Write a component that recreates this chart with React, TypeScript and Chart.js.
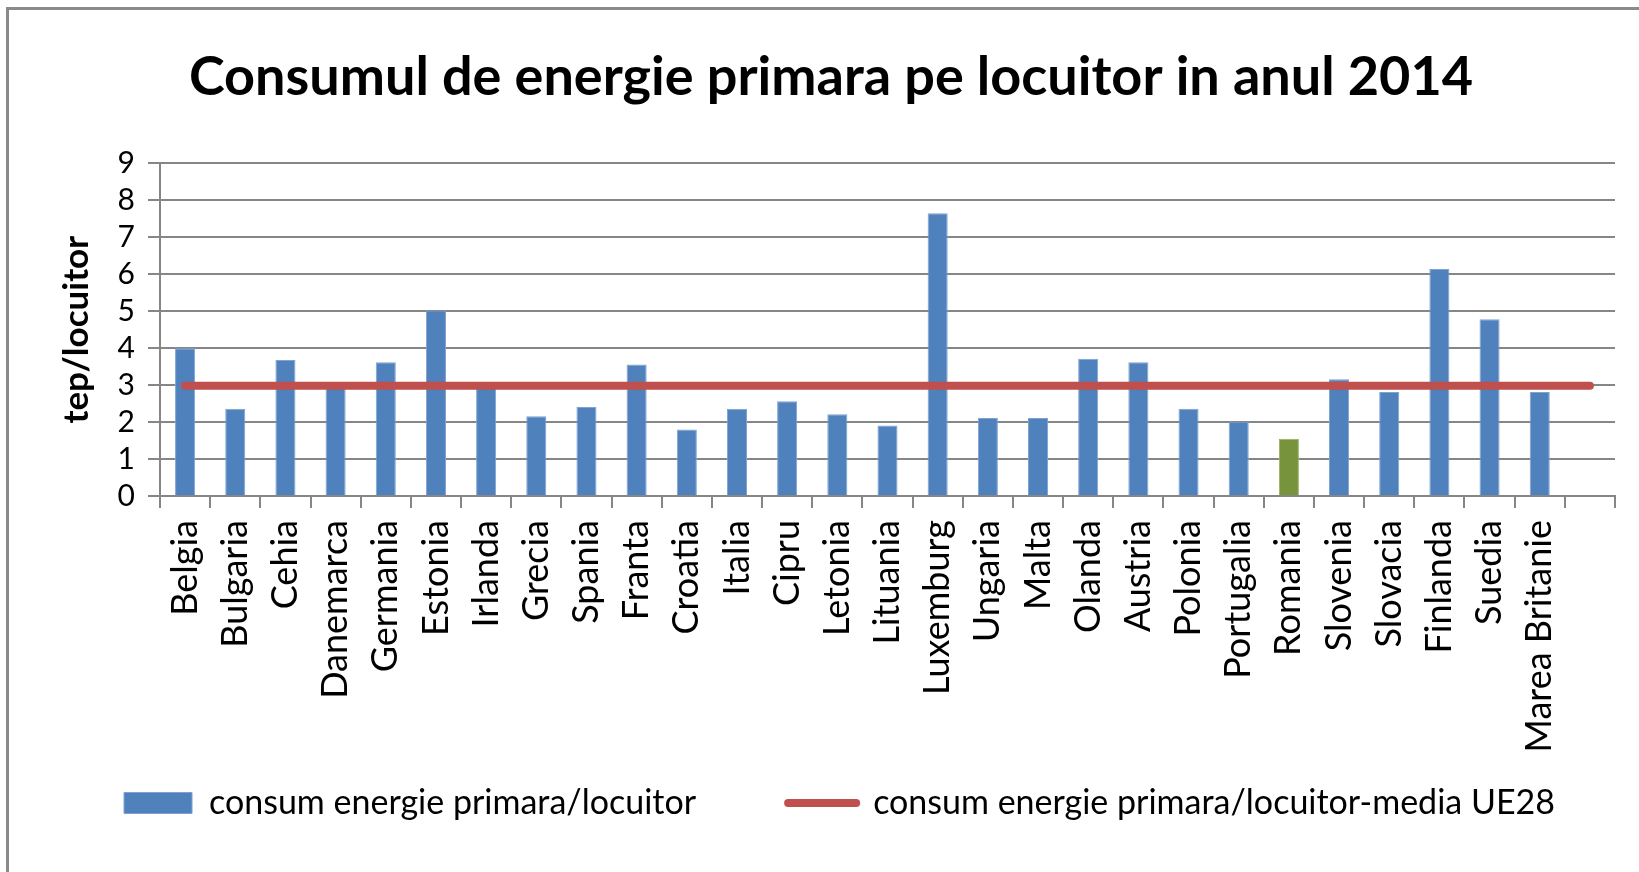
import React, { useEffect, useRef } from 'react';
import { Chart, registerables } from 'chart.js';

Chart.register(...registerables);

// ---------- data ----------
const countries: string[] = [
  'Belgia', 'Bulgaria', 'Cehia', 'Danemarca', 'Germania', 'Estonia', 'Irlanda',
  'Grecia', 'Spania', 'Franta', 'Croatia', 'Italia', 'Cipru', 'Letonia',
  'Lituania', 'Luxemburg', 'Ungaria', 'Malta', 'Olanda', 'Austria', 'Polonia',
  'Portugalia', 'Romania', 'Slovenia', 'Slovacia', 'Finlanda', 'Suedia',
  'Marea Britanie', '',
];

const consumPerLocuitor: (number | null)[] = [
  4.0, 2.36, 3.68, 2.93, 3.62, 5.02, 2.93,
  2.16, 2.41, 3.56, 1.8, 2.36, 2.56, 2.21,
  1.91, 7.65, 2.11, 2.11, 3.71, 3.62, 2.36,
  2.01, 1.55, 3.16, 2.81, 6.14, 4.78,
  2.81, null,
];

const mediaUE28: number[] = [
  2.98, 2.98, 2.98, 2.98, 2.98, 2.98, 2.98,
  2.98, 2.98, 2.98, 2.98, 2.98, 2.98, 2.98,
  2.98, 2.98, 2.98, 2.98, 2.98, 2.98, 2.98,
  2.98, 2.98, 2.98, 2.98, 2.98, 2.98,
  2.98, 2.98,
];

const highlighted: string[] = ['Romania'];

const yMin = 0;
const yMax = 9;
const yStep = 1;

const chartTitle = 'Consumul de energie primara pe locuitor in anul 2014';
const yAxisTitle = 'tep/locuitor';
const barLabel = 'consum energie primara/locuitor';
const lineLabel = 'consum energie primara/locuitor-media UE28';

// ---------- style ----------
const W = 1639;
const H = 872;
const BLUE = '#4F81BD';
const BLUE_EDGE = '#7FA2D2';
const GREEN = '#77933C';
const GREEN_EDGE = '#98B15F';
const RED = '#C0504D';
const GRID = '#868686';
const FONT = 'Lato, "Open Sans", "DejaVu Sans", sans-serif';

const AREA_TOP = 163.3;
const AREA_BOTTOM = 496;
const AREA_LEFT = 160;
const AREA_RIGHT = 1615;
const TITLE_CY = 78;
const TITLE_CX = 831;
const TITLE_SIZE = 54;
const LEGEND_CY = 803;
const LEGEND_CX = 839.5;
const LEGEND_SIZE = 34;
const LEGEND_GAP = 92;
const LEGEND_BOX_H = 60;
const YTITLE_CX = 77;
const YTITLE_SIZE = 35;

const placer = {
  id: 'placer',
  beforeLayout(chart: any) {
    const lg = chart.legend;
    if (lg && !lg.__wide) {
      const orig = lg._fitRows;
      lg._fitRows = function (...args: any[]) {
        const mw = this.maxWidth;
        this.maxWidth = 5000;
        orig.apply(this, args);
        this.maxWidth = mw;
        return LEGEND_BOX_H;
      };
      lg.__wide = true;
    }
  },
  afterLayout(chart: any) {
    const lg = chart.legend;
    if (lg) {
      const pad = lg.options.labels.padding;
      const top = LEGEND_CY - pad - LEGEND_SIZE / 2;
      lg.top = top;
      lg.bottom = LEGEND_CY + LEGEND_SIZE;
      lg.left = LEGEND_CX - 1000;
      lg.right = LEGEND_CX + 1000;
    }
    const tb = chart.titleBlock;
    if (tb) {
      const w = tb.right - tb.left;
      tb.left = TITLE_CX - w / 2;
      tb.right = TITLE_CX + w / 2;
    }
  },
};

export default function App() {
  const ref = useRef<HTMLCanvasElement>(null);

  useEffect(() => {
    if (!ref.current) return;
    const barColors = countries.map((c) => (highlighted.includes(c) ? GREEN : BLUE));
    const barEdges = countries.map((c) => (highlighted.includes(c) ? GREEN_EDGE : BLUE_EDGE));
    const titleLH = TITLE_SIZE * 1.2;
    const titlePadTop = TITLE_CY - titleLH / 2;
    const titlePadBottom = AREA_TOP - titlePadTop - titleLH;

    const chart = new Chart(ref.current, {
      type: 'bar',
      data: {
        labels: countries,
        datasets: [
          {
            type: 'bar',
            label: barLabel,
            data: consumPerLocuitor,
            backgroundColor: barColors,
            borderColor: barEdges,
            borderWidth: 1,
            barPercentage: 0.4,
            categoryPercentage: 1,
            order: 1,
          } as any,
          {
            type: 'line',
            label: lineLabel,
            data: mediaUE28,
            borderColor: RED,
            backgroundColor: RED,
            borderWidth: 8,
            borderCapStyle: 'round',
            pointRadius: 0,
            pointHoverRadius: 0,
            fill: false,
            tension: 0,
            order: 0,
          } as any,
        ],
      },
      options: {
        responsive: false,
        maintainAspectRatio: false,
        animation: false,
        devicePixelRatio: 1,
        layout: { padding: { left: 0, right: W - AREA_RIGHT, top: 0, bottom: 0 } },
        plugins: {
          tooltip: { enabled: false },
          title: {
            display: true,
            text: chartTitle,
            color: '#000000',
            font: { family: FONT, size: TITLE_SIZE, weight: 'bold' },
            padding: { top: titlePadTop, bottom: titlePadBottom },
          },
          legend: {
            display: true,
            position: 'bottom',
            labels: {
              usePointStyle: true,
              pointStyleWidth: 68,
              boxHeight: 21,
              padding: LEGEND_GAP,
              color: '#000000',
              font: { family: FONT, size: LEGEND_SIZE },
              generateLabels: () => [
                {
                  text: barLabel,
                  fillStyle: BLUE,
                  strokeStyle: BLUE_EDGE,
                  lineWidth: 1,
                  pointStyle: 'rect',
                  hidden: false,
                  datasetIndex: 0,
                  fontColor: '#000000',
                } as any,
                {
                  text: lineLabel,
                  fillStyle: RED,
                  strokeStyle: RED,
                  lineWidth: 8,
                  lineCap: 'round',
                  pointStyle: 'line',
                  hidden: false,
                  datasetIndex: 1,
                  fontColor: '#000000',
                } as any,
              ],
            },
          },
        },
        scales: {
          x: {
            offset: true,
            afterFit: (scale: any) => {
              const lh = scale.chart.legend ? scale.chart.legend.height : 0;
              scale.height = H - AREA_BOTTOM - lh;
              scale.paddingLeft = 0;
              scale.paddingRight = 0;
            },
            grid: {
              display: true,
              drawOnChartArea: false,
              drawTicks: true,
              tickLength: 12,
              color: GRID,
              lineWidth: 2,
              offset: true,
            },
            border: { display: true, color: GRID, width: 2 },
            ticks: {
              autoSkip: false,
              maxRotation: 90,
              minRotation: 90,
              padding: 12,
              color: '#000000',
              font: { family: FONT, size: 36 },
            },
          },
          y: {
            min: yMin,
            max: yMax,
            afterFit: (scale: any) => {
              scale.width = AREA_LEFT;
            },
            grid: {
              color: GRID,
              lineWidth: 2,
              drawTicks: true,
              tickLength: 12,
            },
            border: { display: true, color: GRID, width: 2 },
            ticks: {
              stepSize: yStep,
              autoSkip: false,
              padding: 13,
              color: '#000000',
              font: { family: FONT, size: 30 },
            },
            title: {
              display: true,
              text: yAxisTitle,
              color: '#000000',
              font: { family: FONT, size: YTITLE_SIZE, weight: 'bold' },
              padding: { top: YTITLE_CX - (YTITLE_SIZE * 1.2) / 2, bottom: 0 },
            },
          },
        },
      },
      plugins: [placer],
    });
    return () => chart.destroy();
  }, []);

  return (
    <div
      style={{
        position: 'fixed',
        left: 0,
        top: 0,
        width: W,
        height: H,
        overflow: 'hidden',
        background: '#ffffff',
      }}
    >
      <div
        style={{
          position: 'absolute',
          left: 6,
          top: 7,
          width: W + 20,
          height: H + 20,
          border: '3px solid #8a8a8a',
          boxSizing: 'border-box',
        }}
      />
      <canvas
        ref={ref}
        width={W}
        height={H}
        style={{ position: 'absolute', left: 0, top: 0, width: W, height: H }}
      />
    </div>
  );
}
